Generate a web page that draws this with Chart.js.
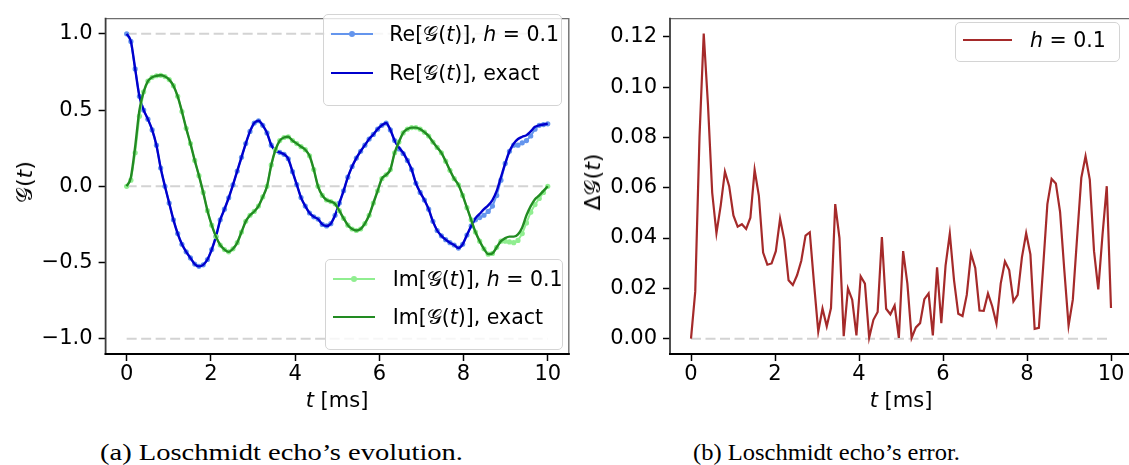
<!DOCTYPE html>
<html><head><meta charset="utf-8">
<script src="https://cdn.jsdelivr.net/npm/chart.js@4.4.1/dist/chart.umd.min.js"></script>
<style>
html,body{margin:0;padding:0;background:#fff;width:1129px;height:465px;overflow:hidden;position:relative;font-family:"DejaVu Sans",sans-serif;}
canvas{position:absolute;top:0;}
#c1{left:0;}
#c2{left:580px;}
.lbl{position:absolute;font-size:21px;color:#000;white-space:nowrap;line-height:1;}
.legend{position:absolute;background:rgba(255,255,255,0.8);border:1px solid #d4d4d4;border-radius:5px;box-sizing:border-box;}
.item{position:absolute;font-size:20.5px;white-space:nowrap;line-height:1;color:#000;}
.sw{position:absolute;height:2px;}
.dot{position:absolute;width:6px;height:6px;border-radius:50%;}
.cap{position:absolute;font-family:"Liberation Serif",serif;font-size:23px;white-space:nowrap;transform-origin:left center;color:#000;line-height:1;}
</style></head>
<body>
<canvas id="c1" width="580" height="420"></canvas>
<canvas id="c2" width="560" height="420"></canvas>

<div class="legend" style="left:322.7px;top:13.7px;width:239.6px;height:92.3px;"></div>
<div class="sw" style="left:330.7px;top:33px;width:42.6px;background:#6495ED;"></div>
<div class="dot" style="left:349px;top:31px;background:#6495ED;"></div>
<div class="item" style="left:389.3px;top:24px;">Re[𝒢(<i>t</i>)], <i>h</i> = 0.1</div>
<div class="sw" style="left:330.7px;top:71.7px;width:42.6px;background:#0000CD;"></div>
<div class="item" style="left:389.3px;top:62.7px;">Re[𝒢(<i>t</i>)], exact</div>

<div class="legend" style="left:325px;top:259px;width:237.7px;height:91px;"></div>
<div class="sw" style="left:332.7px;top:278.3px;width:42.3px;background:#90EE90;"></div>
<div class="dot" style="left:351px;top:276.3px;background:#90EE90;"></div>
<div class="item" style="left:392.7px;top:269.3px;">Im[𝒢(<i>t</i>)], <i>h</i> = 0.1</div>
<div class="sw" style="left:332.7px;top:316.3px;width:42.3px;background:#228B22;"></div>
<div class="item" style="left:392.7px;top:307.3px;">Im[𝒢(<i>t</i>)], exact</div>

<div class="legend" style="left:955px;top:21.7px;width:165px;height:40.6px;"></div>
<div class="sw" style="left:963.3px;top:39px;width:48.4px;background:#A52A2A;"></div>
<div class="item" style="left:1030px;top:30px;"><i>h</i> = 0.1</div>

<div class="lbl" style="left:337px;top:400px;transform:translate(-50%,-50%);"><i>t</i> [ms]</div>
<div class="lbl" style="left:901px;top:400px;transform:translate(-50%,-50%);"><i>t</i> [ms]</div>
<div class="lbl" style="left:25px;top:182px;transform:translate(-50%,-50%) rotate(-90deg);font-size:22px;">𝒢(<i>t</i>)</div>
<div class="lbl" style="left:593px;top:182px;transform:translate(-50%,-50%) rotate(-90deg);font-size:22px;">Δ𝒢(<i>t</i>)</div>

<div class="cap" data-w="363" style="left:100px;top:441px;">(a) Loschmidt echo’s evolution.</div>
<div class="cap" data-w="267" style="left:693px;top:441px;">(b) Loschmidt echo’s error.</div>

<script>
// ---- data ----
const tGrid = [0,0.101,0.202,0.303,0.404,0.505,0.606,0.707,0.808,0.909,
1.010,1.111,1.212,1.313,1.414,1.515,1.616,1.717,1.818,1.919,
2.020,2.121,2.222,2.323,2.424,2.525,2.626,2.727,2.828,2.929,
3.030,3.131,3.232,3.333,3.434,3.535,3.636,3.737,3.838,3.939,
4.040,4.141,4.242,4.343,4.444,4.545,4.646,4.747,4.848,4.949,
5.051,5.152,5.253,5.354,5.455,5.556,5.657,5.758,5.859,5.960,
6.061,6.162,6.263,6.364,6.465,6.566,6.667,6.768,6.869,6.970,
7.071,7.172,7.273,7.374,7.475,7.576,7.677,7.778,7.879,7.980,
8.081,8.182,8.283,8.384,8.485,8.586,8.687,8.788,8.889,8.990,
9.091,9.192,9.293,9.394,9.495,9.596,9.697,9.798,9.899,10.000];

const reExact = [1.00,0.95,0.77,0.59,0.50,0.44,0.37,0.27,0.12,0.00,
-0.11,-0.22,-0.31,-0.38,-0.43,-0.47,-0.51,-0.525,-0.515,-0.48,
-0.415,-0.33,-0.22,-0.15,-0.075,0.01,0.10,0.19,0.28,0.36,
0.415,0.43,0.40,0.35,0.27,0.235,0.223,0.21,0.18,0.096,
0.011,-0.074,-0.13,-0.175,-0.20,-0.215,-0.25,-0.26,-0.245,-0.19,
-0.11,-0.03,0.06,0.13,0.185,0.23,0.27,0.31,0.34,0.375,
0.40,0.415,0.37,0.30,0.255,0.22,0.17,0.11,0.02,-0.04,
-0.09,-0.15,-0.23,-0.29,-0.325,-0.35,-0.37,-0.385,-0.405,-0.38,
-0.32,-0.26,-0.21,-0.18,-0.15,-0.125,-0.09,-0.03,0.06,0.15,
0.23,0.28,0.31,0.325,0.335,0.36,0.39,0.40,0.405,0.41];

const reH = [1.00,0.95,0.77,0.59,0.50,0.44,0.37,0.27,0.12,0.00,
-0.11,-0.22,-0.31,-0.38,-0.43,-0.47,-0.51,-0.525,-0.515,-0.48,
-0.415,-0.33,-0.22,-0.15,-0.075,0.01,0.10,0.19,0.28,0.36,
0.415,0.43,0.40,0.35,0.27,0.235,0.223,0.21,0.18,0.096,
0.011,-0.074,-0.13,-0.175,-0.20,-0.215,-0.25,-0.26,-0.245,-0.19,
-0.11,-0.03,0.06,0.13,0.185,0.23,0.27,0.31,0.34,0.375,
0.40,0.415,0.37,0.30,0.245,0.215,0.17,0.11,0.02,-0.04,
-0.09,-0.15,-0.23,-0.29,-0.325,-0.35,-0.37,-0.385,-0.405,-0.38,
-0.32,-0.26,-0.22,-0.205,-0.19,-0.165,-0.13,-0.06,0.04,0.15,
0.23,0.27,0.27,0.285,0.30,0.33,0.375,0.40,0.405,0.41];

const imExact = [0.00,0.06,0.26,0.50,0.62,0.69,0.715,0.725,0.728,0.72,
0.70,0.66,0.59,0.49,0.38,0.28,0.17,0.07,-0.04,-0.16,
-0.255,-0.33,-0.385,-0.415,-0.43,-0.41,-0.37,-0.30,-0.23,-0.19,
-0.165,-0.13,-0.07,0.00,0.14,0.24,0.30,0.32,0.325,0.30,
0.28,0.26,0.24,0.20,0.11,0.00,-0.06,-0.09,-0.10,-0.115,
-0.16,-0.21,-0.255,-0.28,-0.29,-0.28,-0.245,-0.19,-0.11,-0.03,
0.05,0.075,0.11,0.22,0.29,0.35,0.375,0.385,0.385,0.375,
0.355,0.33,0.29,0.255,0.22,0.165,0.105,0.05,0.01,-0.06,
-0.14,-0.22,-0.30,-0.36,-0.41,-0.445,-0.44,-0.40,-0.36,-0.34,
-0.33,-0.33,-0.315,-0.27,-0.19,-0.13,-0.085,-0.06,-0.03,0.00];

const imH = [0.00,0.04,0.22,0.46,0.62,0.69,0.715,0.725,0.728,0.72,
0.70,0.66,0.59,0.49,0.38,0.28,0.17,0.07,-0.04,-0.16,
-0.255,-0.33,-0.385,-0.415,-0.43,-0.41,-0.37,-0.30,-0.23,-0.19,
-0.165,-0.13,-0.07,0.00,0.14,0.24,0.30,0.32,0.325,0.30,
0.28,0.26,0.24,0.20,0.11,0.00,-0.06,-0.09,-0.10,-0.115,
-0.16,-0.21,-0.255,-0.28,-0.29,-0.28,-0.245,-0.19,-0.11,-0.03,
0.05,0.075,0.11,0.22,0.29,0.35,0.375,0.385,0.385,0.375,
0.355,0.33,0.29,0.255,0.22,0.165,0.105,0.05,0.01,-0.06,
-0.14,-0.22,-0.30,-0.36,-0.41,-0.445,-0.44,-0.40,-0.36,-0.36,
-0.365,-0.37,-0.355,-0.31,-0.24,-0.17,-0.12,-0.08,-0.04,0.00];

const errH = [0,0.0187,0.080,0.1213,0.093,0.058,0.0419,0.0529,0.0664,0.0606,
0.049,0.0445,0.0455,0.0436,0.0481,0.0671,0.0568,0.0342,0.0294,0.0299,
0.0348,0.0477,0.0393,0.0232,0.0213,0.0252,0.031,0.041,0.0423,0.022,
0.0028,0.012,0.0049,0.0122,0.0535,0.040,0.001,0.020,0.0155,0.0013,
0.0248,0.0219,0.0004,0.0075,0.0106,0.0404,0.0119,0.0097,0.0132,0.0003,
0.0348,0.0219,0.0003,0.0045,0.0062,0.0157,0.018,0.0013,0.0284,0.0062,
0.029,0.0417,0.0232,0.0099,0.009,0.0174,0.0338,0.0281,0.0112,0.0111,
0.018,0.0129,0.006,0.0219,0.0307,0.0273,0.0148,0.0174,0.0323,0.0419,
0.0335,0.0039,0.0043,0.0284,0.0535,0.0635,0.0617,0.0503,0.0271,0.0052,
0.0155,0.040,0.0639,0.0725,0.0632,0.0348,0.0196,0.0413,0.0606,0.0122];

const refLevelsLeft = [1, 0, -1];
const refLevelsRight = [0];
const refSpan = [0, 10];

const xTicks = [0, 2, 4, 6, 8, 10];
const xTickLabels = ['0', '2', '4', '6', '8', '10'];
const yTicksLeft = [-1, -0.5, 0, 0.5, 1];
const yTickLabelsLeft = ['−1.0', '−0.5', '0.0', '0.5', '1.0'];
const yTicksRight = [0, 0.02, 0.04, 0.06, 0.08, 0.10, 0.12];
const yTickLabelsRight = ['0.00', '0.02', '0.04', '0.06', '0.08', '0.10', '0.12'];

// ---- helpers ----
const pts = (ys) => tGrid.map((t, i) => ({x: t, y: ys[i]}));
const refSet = (lvl) => ({
  data: refSpan.map(x => ({x, y: lvl})), borderColor: '#d3d3d3', borderWidth: 2,
  borderDash: [10, 4.5], pointRadius: 0, order: 10, fill: false
});
const framePlugin = {
  id: 'frame',
  afterDraw(chart) {
    const {ctx, chartArea: {left, right, top, bottom}} = chart;
    ctx.save();
    ctx.lineCap = 'square';
    ctx.lineWidth = 1.4; ctx.strokeStyle = '#6e6e6e';
    ctx.beginPath(); ctx.moveTo(left, top); ctx.lineTo(right, top); ctx.lineTo(right, bottom); ctx.stroke();
    ctx.lineWidth = 1.8; ctx.strokeStyle = '#3c3c3c';
    ctx.beginPath(); ctx.moveTo(left, top); ctx.lineTo(left, bottom); ctx.stroke();
    ctx.lineWidth = 2; ctx.strokeStyle = '#000';
    ctx.beginPath(); ctx.moveTo(left, bottom); ctx.lineTo(right, bottom); ctx.stroke();
    ctx.restore();
  }
};
const tickFont = {family: 'DejaVu Sans', size: 21};
function xScale() {
  return {
    type: 'linear', min: -0.5, max: 10.5,
    afterBuildTicks: s => { s.ticks = xTicks.map(v => ({value: v})); },
    afterFit: s => { s.height = 66; },
    ticks: {autoSkip: false, maxRotation: 0, font: tickFont, color: '#000', padding: 1,
      callback: v => xTickLabels[xTicks.indexOf(v)]},
    grid: {drawOnChartArea: false, drawTicks: true, tickLength: 7, tickColor: '#000', tickWidth: 1.5},
    border: {display: false}
  };
}
function yScale(min, max, ticks, labels, width) {
  return {
    type: 'linear', min, max,
    afterBuildTicks: s => { s.ticks = ticks.map(v => ({value: v})); },
    afterFit: s => { s.width = width; },
    ticks: {autoSkip: false, font: tickFont, color: '#000', padding: 6,
      callback: v => labels[ticks.indexOf(v)]},
    grid: {drawOnChartArea: false, drawTicks: true, tickLength: 7, tickColor: '#000', tickWidth: 1.5},
    border: {display: false}
  };
}
const common = {
  responsive: false, animation: false, devicePixelRatio: 1,
  plugins: {legend: {display: false}, tooltip: {enabled: false}},
};

new Chart(document.getElementById('c1'), {
  type: 'line',
  data: {datasets: [
    {data: pts(imExact), borderColor: '#228B22', borderWidth: 2.4, pointRadius: 0, cubicInterpolationMode: 'monotone', order: 1},
    {data: pts(imH), borderColor: '#90EE90', backgroundColor: '#90EE90', borderWidth: 2, pointRadius: 2.6, pointBorderWidth: 0, order: 2},
    {data: pts(reExact), borderColor: '#0000CD', borderWidth: 2.4, pointRadius: 0, cubicInterpolationMode: 'monotone', order: 3},
    {data: pts(reH), borderColor: '#6495ED', backgroundColor: '#6495ED', borderWidth: 2, pointRadius: 2.6, pointBorderWidth: 0, order: 4},
    ...refLevelsLeft.map(refSet)
  ]},
  options: {...common,
    layout: {padding: {left: 0, right: 11.2, top: 9.5, bottom: 0}},
    scales: {x: xScale(), y: yScale(-1.1, 1.1, yTicksLeft, yTickLabelsLeft, 105.6)}
  },
  plugins: [framePlugin]
});

new Chart(document.getElementById('c2'), {
  type: 'line',
  data: {datasets: [
    {data: pts(errH), borderColor: '#A52A2A', borderWidth: 2.2, pointRadius: 0, order: 1},
    ...refLevelsRight.map(refSet)
  ]},
  options: {...common,
    layout: {padding: {left: 0, right: 8, top: 9.7, bottom: 0}},
    scales: {x: xScale(), y: yScale(-0.00608, 0.1272, yTicksRight, yTickLabelsRight, 90)}
  },
  plugins: [framePlugin]
});

// fit captions to the reference width
document.querySelectorAll('.cap').forEach(el => {
  const w = el.getBoundingClientRect().width;
  el.style.transform = 'scaleX(' + (+el.dataset.w / w) + ')';
});
</script>
</body></html>
